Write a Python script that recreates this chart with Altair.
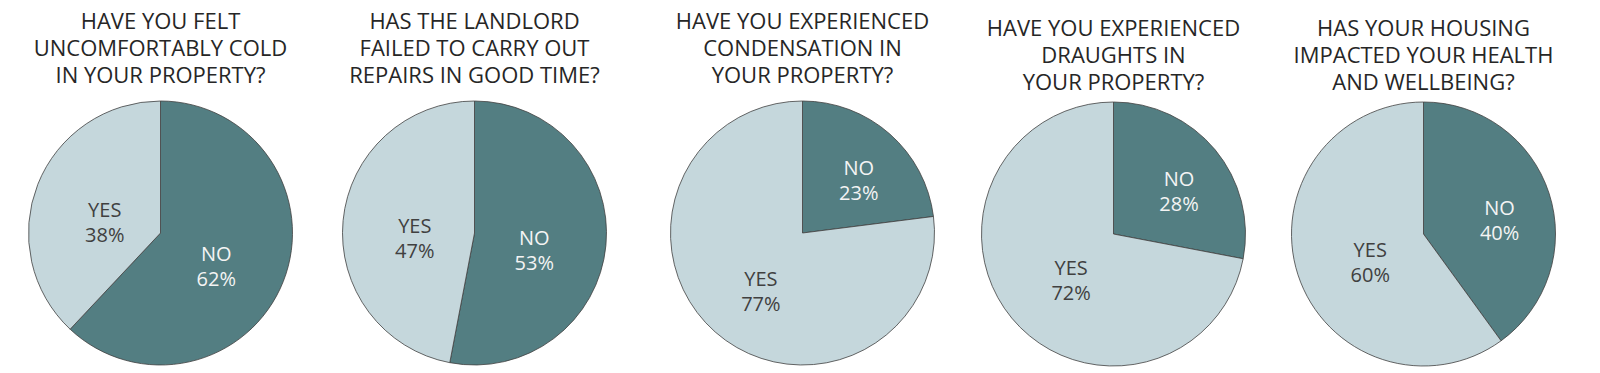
import altair as alt
import pandas as pd

# ---- data ----
questions = [
    ["HAVE YOU FELT", "UNCOMFORTABLY COLD", "IN YOUR PROPERTY?"],
    ["HAS THE LANDLORD", "FAILED TO CARRY OUT", "REPAIRS IN GOOD TIME?"],
    ["HAVE YOU EXPERIENCED", "CONDENSATION IN", "YOUR PROPERTY?"],
    ["HAVE YOU EXPERIENCED", "DRAUGHTS IN", "YOUR PROPERTY?"],
    ["HAS YOUR HOUSING", "IMPACTED YOUR HEALTH", "AND WELLBEING?"],
]
answers = ["NO", "YES"]
no_pct = [62, 53, 23, 28, 40]
yes_pct = [38, 47, 77, 72, 60]

# ---- layout / style ----
panel_widths = [305, 323, 333, 289, 331]
panel_heights = [264, 264, 264, 266, 266]
title_dy = [0, 0, 0, 6, 6]
label_r_no = [60, 60, 85, 85, 80]
label_r_yes = [60, 60, 63, 55, 56]
pie_radius = 132
FONT = "Open Sans"
DARK = "#537e82"
LIGHT = "#c5d7dc"

panels = []
for i, q in enumerate(questions):
    df = pd.DataFrame({
        "answer": answers,
        "pct": [no_pct[i], yes_pct[i]],
        "ord": [0, 1],
    })
    base = alt.Chart(df).encode(
        theta=alt.Theta("pct:Q", stack=True),
        order=alt.Order("ord:Q"),
    )
    arc = base.mark_arc(radius=pie_radius, stroke="#404040", strokeWidth=0.8).encode(
        color=alt.Color("answer:N", scale=alt.Scale(domain=answers, range=[DARK, LIGHT]), legend=None)
    )
    layers = [arc]
    for ans, r, col in [("NO", label_r_no[i], "#f4f4f4"), ("YES", label_r_yes[i], "#404040")]:
        t = base.transform_calculate(
            label=f"datum.answer == '{ans}' ? datum.answer + '\\n' + datum.pct + '%' : ''"
        ).mark_text(
            font=FONT, fontSize=20, lineBreak="\n", lineHeight=25, baseline="middle",
            align="center", radius=r, color=col,
        ).encode(text="label:N")
        layers.append(t)
    panel = alt.layer(*layers).properties(
        width=panel_widths[i],
        height=panel_heights[i],
        title=alt.TitleParams(
            text=q, font=FONT, fontSize=22, fontWeight="normal", color="#262626",
            lineHeight=27, anchor="middle", offset=11, dy=title_dy[i],
        ),
    )
    panels.append(panel)

chart = alt.hconcat(*panels, spacing=0).properties(
    padding={"top": 3, "left": 0, "right": 0, "bottom": 0}
).configure_view(stroke=None)

chart.save("out.html", embed_options={"renderer": "svg", "actions": False})
